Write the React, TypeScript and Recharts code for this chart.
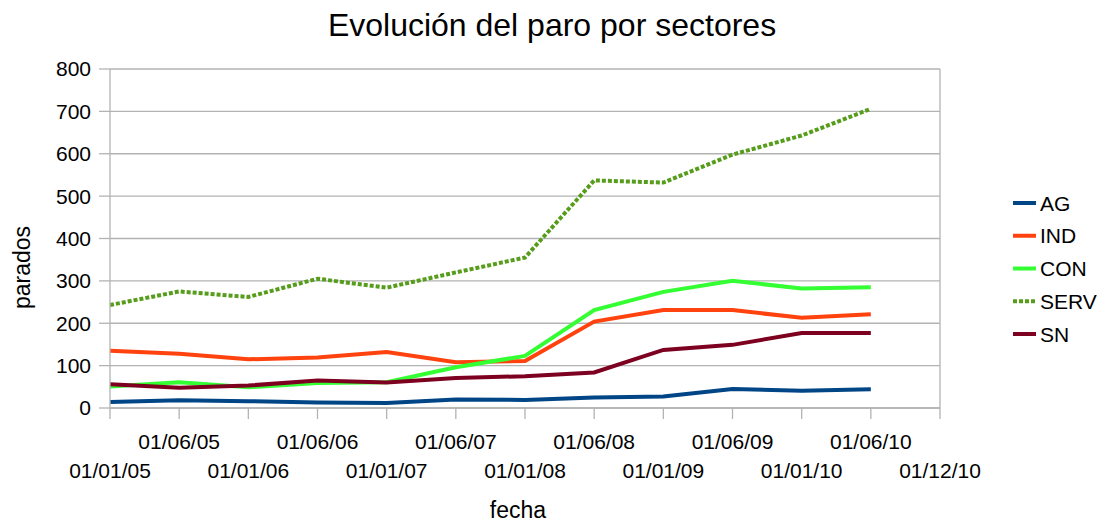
import React from 'react';
import { LineChart, Line, XAxis, YAxis, CartesianGrid, Legend, ReferenceLine } from 'recharts';

const categories = ['01/01/05', '01/06/05', '01/01/06', '01/06/06', '01/01/07', '01/06/07', '01/01/08', '01/06/08', '01/01/09', '01/06/09', '01/01/10', '01/06/10', '01/12/10'];
const AG = [14, 18, 16, 13, 12, 20, 19, 25, 27, 45, 41, 44, null];
const IND = [135, 128, 115, 119, 132, 108, 111, 204, 231, 231, 213, 221, null];
const CON = [51, 61, 49, 59, 61, 96, 123, 231, 274, 300, 282, 285, null];
const SERV = [243, 275, 262, 305, 284, 320, 355, 537, 532, 598, 643, 706, null];
const SN = [56, 48, 53, 65, 60, 71, 75, 84, 137, 149, 177, 177, null];
const yTicks = [0, 100, 200, 300, 400, 500, 600, 700, 800];

const seriesNames = ['AG', 'IND', 'CON', 'SERV', 'SN'];
const seriesColors = ['#004586', '#ff420e', '#33ff33', '#579d1c', '#7e0021'];
const seriesDash = ['', '', '', '4 2', ''];
const seriesValues = [AG, IND, CON, SERV, SN];

const data = categories.map((c, i) => {
  const row: any = { fecha: c };
  seriesNames.forEach((n, k) => { row[n] = seriesValues[k][i]; });
  return row;
});

const FONT = '"Liberation Sans", Arial, sans-serif';
const GRID = '#b3b3b3';

const XTick = (props: any) => {
  const { x, y, payload, index } = props;
  const upper = index % 2 === 1;
  return (
    <text x={x} y={y + (upper ? 28 : 57)} textAnchor="middle" fontSize={21} fontFamily={FONT} fill="#000">
      {payload.value}
    </text>
  );
};

const LegendContent = () => (
  <svg width={95} height={170}>
    {seriesNames.map((n, i) => {
      const cy = 13 + i * 32.75;
      return (
        <g key={n}>
          <line x1={3} x2={26} y1={cy} y2={cy} stroke={seriesColors[i]} strokeWidth={4} strokeDasharray={seriesDash[i] || undefined} />
          <text x={30} y={cy} dy="0.36em" fontSize={21} fontFamily={FONT} fill="#000">{n}</text>
        </g>
      );
    })}
  </svg>
);

export default function App() {
  return (
    <div style={{ position: 'absolute', left: 0, top: 0, width: 1100, height: 524, background: '#fff' }}>
      <svg width={1100} height={50} style={{ position: 'absolute', left: 0, top: 0 }}>
        <text x={552} y={36} textAnchor="middle" fontSize={32} fontFamily={FONT} fill="#000">Evolución del paro por sectores</text>
      </svg>
      <LineChart width={1100} height={524} data={data} margin={{ top: 69, right: 65, bottom: 0, left: 0 }}>
        <CartesianGrid vertical={false} stroke={GRID} strokeWidth={1.3} />
        <XAxis
          dataKey="fecha"
          type="category"
          interval={0}
          height={116}
          stroke={GRID}
          strokeWidth={1.3}
          tickSize={11}
          tickMargin={2}
          tick={<XTick />}
          tickLine={{ stroke: GRID, strokeWidth: 1.3 }}
          label={{
            value: 'fecha',
            content: (p: any) => {
              const vb = p.viewBox;
              return (
                <text x={vb.x + vb.width / 2 - 7} y={vb.y + vb.height - 6} textAnchor="middle" fontSize={23} fontFamily={FONT} fill="#000">fecha</text>
              );
            },
          }}
        />
        <YAxis
          domain={[0, 800]}
          ticks={yTicks}
          width={110}
          stroke={GRID}
          strokeWidth={1.3}
          tickSize={11}
          tickMargin={8}
          tick={{ fontSize: 21, fontFamily: FONT, fill: '#000' }}
          tickLine={{ stroke: GRID, strokeWidth: 1.3 }}
          label={{
            value: 'parados',
            content: (p: any) => {
              const vb = p.viewBox;
              const cx = vb.x + 22;
              const cy = vb.y + vb.height / 2 + 29;
              return (
                <text x={cx} y={cy} transform={`rotate(-90, ${cx}, ${cy})`} textAnchor="middle" dominantBaseline="central" fontSize={23} fontFamily={FONT} fill="#000">parados</text>
              );
            },
          }}
        />
        <ReferenceLine x="01/12/10" stroke={GRID} strokeWidth={1.3} />
        <Legend
          layout="horizontal"
          verticalAlign="middle"
          align="right"
          content={<LegendContent />}
          wrapperStyle={{ position: 'absolute', left: 1010, top: 190, width: 95, height: 170 }}
        />
        {seriesNames.map((n, i) => (
          <Line
            key={n}
            dataKey={n}
            name={n}
            type="linear"
            stroke={seriesColors[i]}
            strokeWidth={4}
            strokeDasharray={seriesDash[i] || undefined}
            dot={false}
            activeDot={false}
            isAnimationActive={false}
          />
        ))}
      </LineChart>
    </div>
  );
}
